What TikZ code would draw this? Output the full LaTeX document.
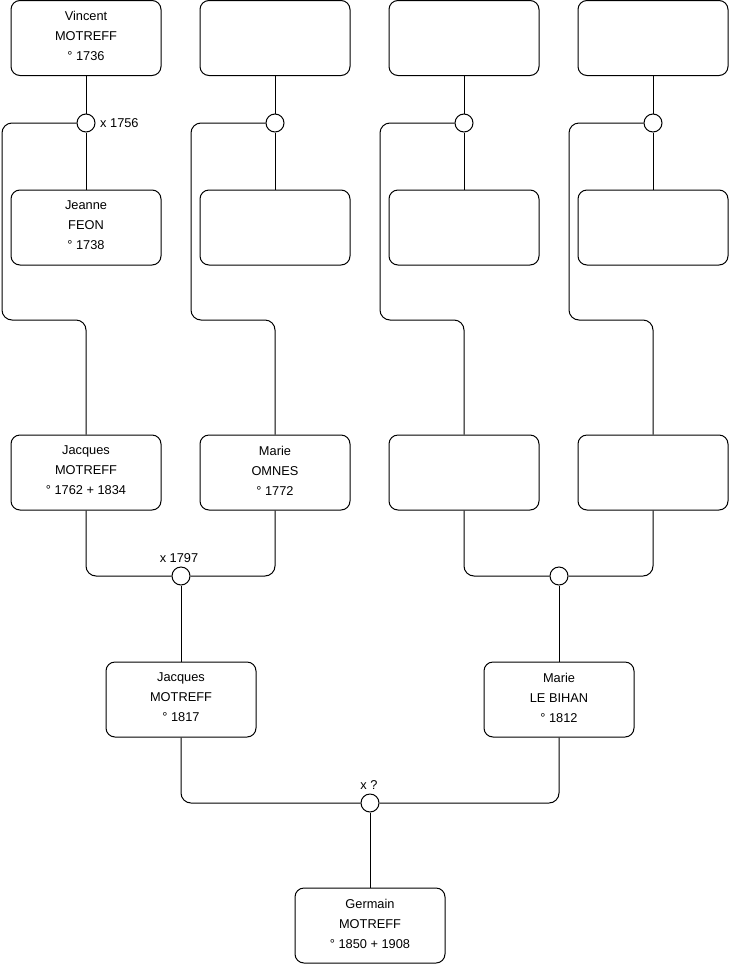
\documentclass[tikz,border=0pt]{standalone}
\usepackage{fontspec}
\setmainfont{Liberation Sans}
\begin{document}
\begin{tikzpicture}[x=1pt,y=-1pt,
  person/.style={draw,line width=1pt,rounded corners=9pt,minimum width=150pt,minimum height=75pt,inner sep=0pt},
  txt/.style={align=center,font=\fontsize{12.8}{20}\selectfont,inner sep=0pt},
  union/.style={draw,line width=1pt,circle,minimum size=18pt,inner sep=0pt,fill=white},
  link/.style={line width=1pt,rounded corners=10pt},
  lbl/.style={font=\fontsize{12.8}{14}\selectfont,inner sep=0pt}]
\useasboundingbox (0,0) rectangle (740,975);
% top row
\node[person] (a1) at (86,38) {};
\node[txt] (a1t) at ([yshift=2pt]a1.center) {Vincent\\MOTREFF\\° 1736};
\node[person] (a2) at (275,38) {};
\node[person] (a3) at (464,38) {};
\node[person] (a4) at (653,38) {};
% second row
\node[person] (b1) at (86,227.5) {};
\node[txt] (b1t) at ([yshift=2pt]b1.center) {Jeanne\\FEON\\° 1738};
\node[person] (b2) at (275,227.5) {};
\node[person] (b3) at (464,227.5) {};
\node[person] (b4) at (653,227.5) {};
% third row
\node[person] (c1) at (86,472.5) {};
\node[txt] (c1t) at ([yshift=2pt]c1.center) {Jacques\\MOTREFF\\° 1762 + 1834};
\node[person] (c2) at (275,472.5) {};
\node[txt] (c2t) at ([yshift=2pt]c2.center) {Marie\\OMNES\\° 1772};
\node[person] (c3) at (464,472.5) {};
\node[person] (c4) at (653,472.5) {};
% fourth row
\node[person] (d1) at (181,699.5) {};
\node[txt] (d1t) at ([yshift=2pt]d1.center) {Jacques\\MOTREFF\\° 1817};
\node[person] (d2) at (559,699.5) {};
\node[txt] (d2t) at ([yshift=2pt]d2.center) {Marie\\LE BIHAN\\° 1812};
% bottom
\node[person] (e1) at (370,925.5) {};
\node[txt] (e1t) at ([yshift=2pt]e1.center) {Germain\\MOTREFF\\° 1850 + 1908};
% unions
\node[union] (u1) at (86,123) {};
\node[union] (u2) at (275,123) {};
\node[union] (u3) at (464,123) {};
\node[union] (u4) at (653,123) {};
\node[union] (v1) at (181,576) {};
\node[union] (v2) at (559,576) {};
\node[union] (w1) at (370,803) {};
% labels
\node[lbl,anchor=west] (l1) at (100,123.5) {x 1756};
\node[lbl] (l2) at (179,558) {x 1797};
\node[lbl] (l3) at (369,785) {x ?};
% top couples
\foreach \i/\x/\lx in {1/86/2,2/275/191,3/464/380,4/653/569}{
  \draw[line width=1pt] (a\i.south) -- (u\i.north);
  \draw[line width=1pt] (u\i.south) -- (b\i.north);
  \draw[link] (u\i.west) -- (\lx,123) -- (\lx,320) -- (\x,320) -- (c\i.north);
}
% third row to fourth
\draw[link] (c1.south) -- (86,576) -- (v1.west);
\draw[link] (c2.south) -- (275,576) -- (v1.east);
\draw[link] (c3.south) -- (464,576) -- (v2.west);
\draw[link] (c4.south) -- (653,576) -- (v2.east);
\draw[line width=1pt] (v1.south) -- (d1.north);
\draw[line width=1pt] (v2.south) -- (d2.north);
% fourth row to bottom
\draw[link] (d1.south) -- (181,803) -- (w1.west);
\draw[link] (d2.south) -- (559,803) -- (w1.east);
\draw[line width=1pt] (w1.south) -- (e1.north);
\end{tikzpicture}
\end{document}
